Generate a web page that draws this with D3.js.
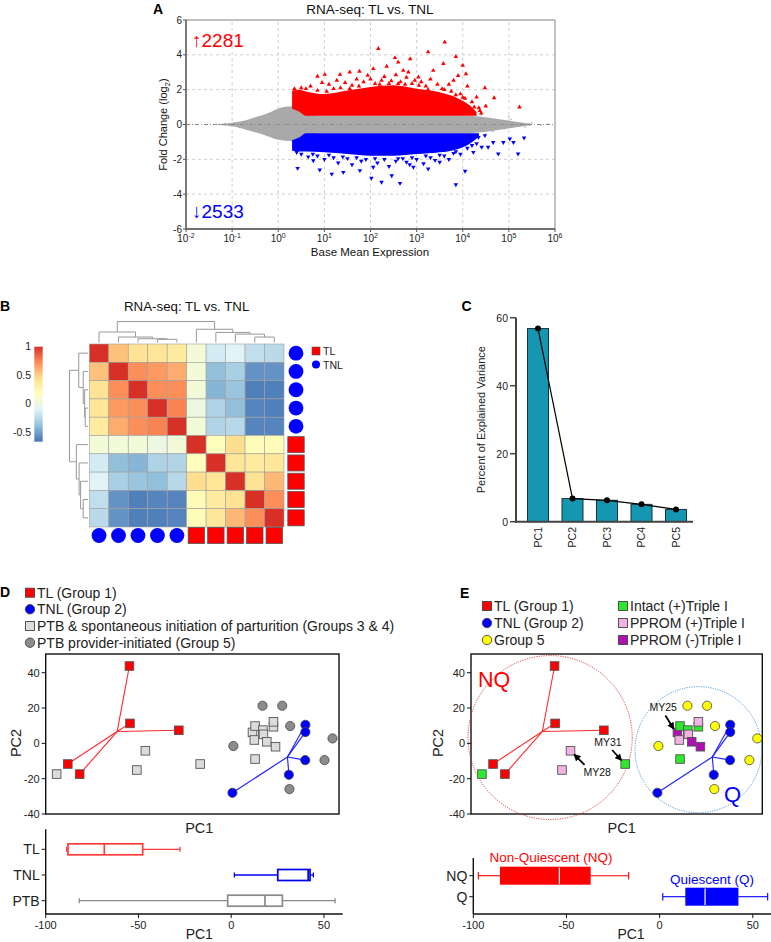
<!DOCTYPE html>
<html><head><meta charset="utf-8">
<script src="https://cdn.jsdelivr.net/npm/d3@7"></script>
<style>body{margin:0;background:#fff} svg{font-family:"Liberation Sans",Arial,Helvetica,sans-serif}</style>
</head><body><svg id="c" width="771" height="942"></svg>
<script>
// ================= DATA =================
// Panel A (MA plot) - x values are log10(base mean)
const maExpTicks = [-2,-1,0,1,2,3,4,5,6];
const maFcTicks = [-6,-4,-2,0,2,4,6];
const upCount = 2281, downCount = 2533;
// dense non-significant cloud envelope: [log10 mean, lower, upper]
const grayCloud = [[-1.3,-0.03,0.03],[-0.95,-0.12,0.12],[-0.7,-0.3,0.25],[-0.5,-0.45,0.42],[-0.2,-0.7,0.68],[0,-0.88,0.92],[0.3,-0.95,1.05],[0.6,-0.6,0.62],[1,-0.5,0.5],[2,-0.5,0.5],[3,-0.5,0.5],[4,-0.5,0.5],[4.4,-0.45,0.45],[4.8,-0.3,0.3],[5.2,-0.15,0.15],[5.5,-0.05,0.05]];
// dense up-regulated region: [log10 mean, lower, upper]
const upCloud = [[0.3,0.9,1.95],[0.45,0.75,2.0],[0.6,0.5,1.9],[1.0,0.5,1.75],[1.5,0.5,1.95],[2.0,0.5,2.15],[2.5,0.5,2.25],[3.0,0.5,2.05],[3.5,0.5,1.85],[3.9,0.5,1.5],[4.15,0.5,1.1],[4.3,0.5,0.7]];
// dense down-regulated region
const downCloud = [[0.3,-0.9,-1.5],[0.45,-0.75,-1.55],[0.6,-0.5,-1.55],[1.0,-0.5,-1.6],[1.5,-0.5,-1.7],[2.0,-0.5,-1.8],[2.5,-0.5,-1.8],[3.0,-0.5,-1.7],[3.5,-0.5,-1.6],[3.9,-0.5,-1.4],[4.15,-0.5,-1.1],[4.35,-0.5,-0.7]];
const upPts = [[2.17,4.35],[3.61,4.73],[3.25,4.16],[2.53,3.83],[2.6,3.58],[2.86,3.77],[3.85,3.9],[4.0,3.39],[4.07,2.91],[1.55,3.0],[1.76,3.05],[1.01,2.87],[0.85,2.76],[1.27,2.53],[4.48,2.1],[4.3,1.57],[4.68,1.53],[5.23,1.0],[4.37,0.8],[2.06,3.2],[2.35,3.33],[2.82,3.0],[3.36,3.1],[2.24,2.53],[3.04,2.72],[1.94,2.82],[1.34,2.87],[3.8,2.53],[3.58,3.49],[2.71,3.1],[2.96,2.53],[0.5,2.1],[0.7,2.2],[0.95,2.4],[1.1,2.3],[1.2,2.05],[1.45,2.4],[1.6,2.25],[1.7,2.6],[1.85,2.45],[2.0,2.6],[2.1,2.35],[2.3,2.75],[2.45,2.5],[2.55,2.85],[2.65,2.45],[2.78,2.7],[2.9,2.35],[3.1,2.45],[3.2,2.2],[3.3,2.6],[3.45,2.3],[3.55,2.05],[3.7,2.3],[3.75,1.9],[3.95,1.75],[4.05,1.5],[4.2,1.3],[4.25,1.0],[4.4,0.65],[4.5,1.05],[4.1,2.2],[3.9,2.8],[0.35,2.05],[0.6,2.05],[0.85,1.95],[1.05,1.9],[1.35,2.1],[1.55,2.05],[1.75,2.2],[2.2,2.3],[2.4,2.35],[2.6,2.35],[2.75,2.3],[3.05,2.25],[3.25,2.0],[3.6,2.0],[3.85,1.7],[4.0,1.55],[4.35,0.95]];
const downPts = [[2.02,-3.08],[2.24,-3.31],[2.64,-3.37],[3.85,-3.45],[4.05,-2.68],[0.9,-2.6],[0.42,-2.51],[1.16,-2.84],[1.41,-2.74],[2.46,-2.93],[2.93,-2.45],[1.77,-2.64],[3.25,-2.55],[4.77,-1.69],[5.2,-1.69],[5.02,-0.82],[5.33,-0.77],[5.1,-1.02],[4.88,-1.02],[4.66,-1.02],[4.55,-1.3],[4.41,-1.3],[4.34,-0.73],[4.48,-0.63],[4.23,-1.59],[2.06,-2.45],[3.5,-2.16],[2.78,-2.16],[0.76,-2.07],[0.5,-1.7],[0.65,-1.85],[0.85,-1.8],[1.0,-2.0],[1.2,-1.9],[1.3,-2.2],[1.5,-1.95],[1.6,-2.3],[1.8,-2.1],[1.9,-2.0],[2.15,-2.2],[2.3,-2.0],[2.4,-2.4],[2.55,-2.1],[2.7,-1.95],[2.85,-2.3],[3.0,-2.0],[3.15,-2.25],[3.3,-1.9],[3.4,-2.05],[3.6,-1.8],[3.7,-2.0],[3.8,-1.65],[3.95,-1.7],[4.1,-1.35],[4.3,-1.1],[0.4,-1.6],[0.75,-1.7],[1.1,-1.75],[1.4,-1.85],[1.7,-1.9],[2.1,-1.95],[2.6,-1.95],[2.9,-1.9],[3.2,-1.8],[3.5,-1.75],[3.85,-1.55],[4.2,-1.2]];
const grayPts = [[4.55,0.35],[4.75,0.2],[4.9,-0.25],[5.05,0.3],[5.2,0.05],[5.35,-0.15],[5.5,0.1],[5.7,-0.05],[5.85,0.02],[4.65,-0.4],[5.0,0.45],[-1.15,0.05],[-1.05,-0.06],[-0.95,0.1],[-0.85,-0.15],[-1.3,0.0],[4.4,0.55],[4.5,-0.55]];

// Panel B (correlation heatmap)
const heatGroups = ["TNL","TNL","TNL","TNL","TNL","TL","TL","TL","TL","TL"];
const corr = [
 [1,0.55,0.42,0.4,0.35,0.05,-0.15,-0.1,-0.22,-0.24],
 [0.55,1,0.72,0.68,0.62,0.05,-0.38,-0.3,-0.55,-0.55],
 [0.42,0.72,1,0.72,0.72,0.05,-0.42,-0.35,-0.62,-0.62],
 [0.4,0.68,0.72,1,0.75,0.0,-0.28,-0.38,-0.6,-0.62],
 [0.35,0.62,0.72,0.75,1,0.05,-0.27,-0.25,-0.6,-0.6],
 [0.05,0.05,0.05,0.0,0.05,1,0.18,0.45,0.2,0.2],
 [-0.15,-0.38,-0.42,-0.28,-0.27,0.18,1,0.4,0.35,0.38],
 [-0.1,-0.3,-0.35,-0.38,-0.25,0.45,0.4,1,0.42,0.58],
 [-0.22,-0.55,-0.62,-0.6,-0.6,0.2,0.35,0.42,1,0.72],
 [-0.24,-0.55,-0.62,-0.62,-0.6,0.2,0.38,0.58,0.72,1]];
// dendrogram: [height, left, right], leaves are indices
const sampleTree = [1.0,[0.5,0,[0.26,1,[0.18,2,[0.15,3,4]]]],[0.63,5,[0.48,6,[0.40,7,[0.26,8,9]]]]];
const colorBarTicks = [1,0.5,0,-0.5];
const corrRange = [-0.66,1];

// Panel C (scree)
const pcs = ["PC1","PC2","PC3","PC4","PC5"];
const pcVar = [56.8,6.8,6.3,5.1,3.6];
const pcTicks = [0,20,40,60];

// Panels D/E (PCA)
const tlPts = [[-54.9,43.8],[-54.6,11.3],[-28.3,7.4],[-88.1,-11.7],[-81.7,-17.4]];
const tnlPts = [[39.9,10.5],[39.9,6.4],[39.8,-9.5],[31.0,-17.8],[0.6,-28.0]];
const ptbSpontPts = [[-94.1,-17.4],[-50.9,-15.1],[-46.3,-4.2],[-16.8,-11.7],[12.8,-8.9],[11.4,6.2],[12.8,9.8],[17.0,7.5],[17.3,5.1],[12.4,1.9],[19.1,0.9],[23.8,-1.9],[22.7,9.4],[22.7,12.2]];
const ptbSpontTripleI = ["intact+","pprom+","pprom+","intact+","intact+","pprom-","intact+","intact+","pprom+","pprom+","pprom-","pprom-","intact+","pprom+"];
const group5Pts = [[16.8,21.3],[27.4,21.3],[31.7,9.8],[54.5,2.8],[1.1,-1.5],[50.2,-9.5],[31.3,-25.9]];
const pcaYTicks = [-40,-20,0,20,40];
const boxXTicks = [-100,-50,0,50];
const boxDCats = ["TL","TNL","PTB"];
const boxDStats = [[-88.7,-88.0,-68.4,-47.7,-27.6],[1.7,25.1,41.5,42.5,44.3],[-81.9,-1.9,18.2,27.6,56.0]];
const boxECats = ["NQ","Q"];
const boxEStats = [[-97.3,-85.3,-53.8,-37.4,-16.6],[1.7,14.2,24.4,41.9,58.0]];
// region ellipses in data units: [cx, cy, rx, ry]
const nqRegion = [-57.3,3.3,44.3,46.4];
const qRegion = [22.7,-3.6,34.2,35.7];
const annotations = [{label:"MY25", idx:5}, {label:"MY31", idx:3}, {label:"MY28", idx:2}];

// ================= DRAW =================
const svg = d3.select("#c");
function label(x,y,s,o={}){
  const t = svg.append("text").attr("x",x).attr("y",y).text(s)
    .attr("font-size",o.size||12).attr("fill",o.fill||"#222")
    .attr("text-anchor",o.anchor||"start");
  if(o.bold) t.attr("font-weight","bold");
  if(o.rot) t.attr("transform",`rotate(${o.rot},${x},${y})`);
  return t;
}
// panel letters
label(153,13.5,"A",{size:14,bold:true,fill:"#000"});
label(0,310.5,"B",{size:14,bold:true,fill:"#000"});
label(461.5,310.5,"C",{size:14,bold:true,fill:"#000"});
label(0,597,"D",{size:14,bold:true,fill:"#000"});
label(460,598,"E",{size:14,bold:true,fill:"#000"});

// ---------- Panel A ----------
{
const g = svg.append("g");
const x = d3.scaleLinear().domain([-2,6]).range([186,555]);
const y = d3.scaleLinear().domain([-6,6]).range([229,20]);
g.selectAll(".gx").data(maExpTicks.slice(1,-1)).join("line")
  .attr("x1",d=>x(d)).attr("x2",d=>x(d)).attr("y1",y(-6)).attr("y2",y(6))
  .attr("stroke","#cfcfcf").attr("stroke-dasharray","3,3");
g.selectAll(".gy").data(maFcTicks.filter(d=>d!==0 && Math.abs(d)<6)).join("line")
  .attr("x1",x(-2)).attr("x2",x(6)).attr("y1",d=>y(d)).attr("y2",d=>y(d))
  .attr("stroke","#cfcfcf").attr("stroke-dasharray","3,3");
const area = d3.area().x(d=>x(d[0])).y0(d=>y(d[1])).y1(d=>y(d[2])).curve(d3.curveMonotoneX);
g.append("path").attr("d",area(grayCloud)).attr("fill","#a9a9a9");
g.append("path").attr("d",area(upCloud)).attr("fill","#ff0000");
g.append("path").attr("d",area(downCloud)).attr("fill","#0000ff");
g.selectAll(".gp").data(grayPts).join("circle").attr("cx",d=>x(d[0])).attr("cy",d=>y(d[1])).attr("r",0.8).attr("fill","#aaa");
const tri = d3.symbol(d3.symbolTriangle,9)();
g.selectAll(".up").data(upPts).join("path").attr("d",tri)
  .attr("transform",d=>`translate(${x(d[0])},${y(d[1])})`).attr("fill","#ff0000");
g.selectAll(".dn").data(downPts).join("path").attr("d",tri)
  .attr("transform",d=>`translate(${x(d[0])},${y(d[1])}) rotate(180)`).attr("fill","#0000ff");
g.append("line").attr("x1",x(-2)).attr("x2",x(6)).attr("y1",y(0)).attr("y2",y(0))
  .attr("stroke","#888").attr("stroke-dasharray","4,2,1,2");
g.append("rect").attr("x",x(-2)).attr("y",y(6)).attr("width",x(6)-x(-2)).attr("height",y(-6)-y(6))
  .attr("fill","none").attr("stroke","#999").attr("stroke-width",1.2);
g.append("line").attr("x1",x(-2)).attr("x2",x(-2)).attr("y1",y(6)).attr("y2",y(-6)).attr("stroke","#555").attr("stroke-width",1.3);
g.append("line").attr("x1",x(-2)).attr("x2",x(6)).attr("y1",y(-6)).attr("y2",y(-6)).attr("stroke","#555").attr("stroke-width",1.3);
g.selectAll(".ty").data(maFcTicks).join("line").attr("x1",x(-2)-3).attr("x2",x(-2)).attr("y1",d=>y(d)).attr("y2",d=>y(d)).attr("stroke","#555");
g.selectAll(".tx").data(maExpTicks).join("line").attr("y1",y(-6)).attr("y2",y(-6)+3).attr("x1",d=>x(d)).attr("x2",d=>x(d)).attr("stroke","#555");
g.selectAll(".ly").data(maFcTicks).join("text").attr("x",x(-2)-4).attr("y",d=>y(d)+3.5)
  .attr("text-anchor","end").attr("font-size",10).attr("fill","#222").text(d=>d);
const lx = g.selectAll(".lx").data(maExpTicks).join("text").attr("x",d=>x(d)).attr("y",242)
  .attr("text-anchor","middle").attr("font-size",10).attr("fill","#222");
lx.append("tspan").text("10");
lx.append("tspan").attr("dy",-4).attr("font-size",7).text(d=>d);
label(370,14,"RNA-seq: TL vs. TNL",{size:13.5,anchor:"middle",fill:"#111"});
label(370,256,"Base Mean Expression",{size:11.5,anchor:"middle",fill:"#111"});
const yl = g.append("text").attr("transform","translate(167,124.5) rotate(-90)").attr("text-anchor","middle").attr("font-size",11).attr("fill","#111");
yl.append("tspan").text("Fold Change (log");
yl.append("tspan").attr("font-size",8).attr("dy",2.5).text("2");
yl.append("tspan").attr("dy",-2.5).text(")");
label(192,47,"↑"+upCount,{size:19,fill:"#ff0000"});
label(192,218,"↓"+downCount,{size:19,fill:"#0000ff"});
}

// ---------- Panel B ----------
{
const g = svg.append("g");
const n = corr.length;
const hx = d3.scaleBand().domain(d3.range(n)).range([89.3,284]);
const hy = d3.scaleBand().domain(d3.range(n)).range([344,527]);
const [lo,hi] = corrRange;
const pal = ["#4575B4","#91BFDB","#E0F3F8","#FFFFBF","#FEE090","#FC8D59","#D73027"];
const col = d3.scaleLinear().domain(d3.range(7).map(i=>lo+i*(hi-lo)/6)).range(pal).interpolate(d3.interpolateRgb);
const cells = corr.flatMap((r,i)=>r.map((v,j)=>({i,j,v})));
g.selectAll(".cell").data(cells).join("rect")
  .attr("x",d=>hx(d.j)).attr("y",d=>hy(d.i)).attr("width",hx.bandwidth()).attr("height",hy.bandwidth())
  .attr("fill",d=>col(d.v)).attr("stroke","#a0a0a0").attr("stroke-width",0.6);
function lay(node){
  if(typeof node==="number") return {pos:node, h:0};
  const a = lay(node[1]), b = lay(node[2]);
  return {pos:(a.pos+b.pos)/2, h:node[0], kids:[a,b]};
}
const tree = lay(sampleTree);
function segs(nd, out){
  if(!nd.kids) return out;
  const [a,b] = nd.kids;
  out.push([a.pos,a.h,a.pos,nd.h],[a.pos,nd.h,b.pos,nd.h],[b.pos,b.h,b.pos,nd.h]);
  segs(a,out); segs(b,out); return out;
}
const S = segs(tree,[]);
const cx = i=>hx(0)+hx.step()*(i+0.5);
const cy = i=>hy(0)+hy.step()*(i+0.5);
g.selectAll(".dt").data(S).join("line")
  .attr("x1",d=>cx(d[0])).attr("x2",d=>cx(d[2])).attr("y1",d=>342.5-d[1]*21).attr("y2",d=>342.5-d[3]*21)
  .attr("stroke","#999").attr("stroke-width",1);
g.selectAll(".dl").data(S).join("line")
  .attr("y1",d=>cy(d[0])).attr("y2",d=>cy(d[2])).attr("x1",d=>88-d[1]*18.5).attr("x2",d=>88-d[3]*18.5)
  .attr("stroke","#999").attr("stroke-width",1);
const annoCol = {TL:"#ff0000", TNL:"#0000ff"};
const rowAnno = heatGroups.map((gname,i)=>({gname,i}));
g.selectAll(".ar").data(rowAnno.filter(d=>d.gname==="TNL")).join("circle")
  .attr("cx",296).attr("cy",d=>cy(d.i)).attr("r",7.4).attr("fill",annoCol.TNL);
g.selectAll(".as").data(rowAnno.filter(d=>d.gname==="TL")).join("rect")
  .attr("x",296-8.2).attr("y",d=>cy(d.i)-8).attr("width",16.4).attr("height",16).attr("fill",annoCol.TL).attr("stroke","#555").attr("stroke-width",0.8);
g.selectAll(".bc").data(rowAnno.filter(d=>d.gname==="TNL")).join("circle")
  .attr("cy",535.5).attr("cx",d=>cx(d.i)).attr("r",7.4).attr("fill",annoCol.TNL);
g.selectAll(".bs").data(rowAnno.filter(d=>d.gname==="TL")).join("rect")
  .attr("y",535.5-8).attr("x",d=>cx(d.i)-8.2).attr("width",16.4).attr("height",16).attr("fill",annoCol.TL).attr("stroke","#555").attr("stroke-width",0.8);
g.append("rect").attr("x",312).attr("y",347).attr("width",8).attr("height",8).attr("fill","#ff0000").attr("stroke","#555").attr("stroke-width",0.6);
g.append("circle").attr("cx",316).attr("cy",364.5).attr("r",4).attr("fill","#0000ff");
label(323,355,"TL",{size:10.5});
label(323,368.5,"TNL",{size:10.5});
const cb = d3.scaleLinear().domain(corrRange).range([441.7,346.7]);
const grad = svg.append("defs").append("linearGradient").attr("id","cbg").attr("x1",0).attr("x2",0).attr("y1",1).attr("y2",0);
d3.range(0,1.0001,0.05).forEach(t=>grad.append("stop").attr("offset",t).attr("stop-color",col(lo+t*(hi-lo))));
g.append("rect").attr("x",34.3).attr("y",cb(hi)).attr("width",8.4).attr("height",cb(lo)-cb(hi)).attr("fill","url(#cbg)");
g.selectAll(".cbl").data(colorBarTicks).join("text").attr("x",31).attr("y",d=>cb(d)+3.5)
  .attr("text-anchor","end").attr("font-size",10.5).attr("fill","#222").text(d=>d);
label(186.7,311,"RNA-seq: TL vs. TNL",{size:13.3,anchor:"middle",fill:"#111"});
}

// ---------- Panel C ----------
{
const g = svg.append("g");
const y = d3.scaleLinear().domain([0,60]).range([521.7,317.7]);
const x = d3.scalePoint().domain(pcs).range([538,676]);
const bw = 21;
g.selectAll(".bar").data(pcs.map((p,i)=>({p,v:pcVar[i]}))).join("rect")
  .attr("x",d=>x(d.p)-bw/2).attr("y",d=>y(d.v)).attr("width",bw).attr("height",d=>y(0)-y(d.v))
  .attr("fill","#1597b1").attr("stroke","#17323a").attr("stroke-width",1);
const line = d3.line().x((d,i)=>x(pcs[i])).y(d=>y(d));
g.append("path").attr("d",line(pcVar)).attr("fill","none").attr("stroke","#000").attr("stroke-width",1.2);
g.selectAll(".dot").data(pcVar).join("circle").attr("cx",(d,i)=>x(pcs[i])).attr("cy",d=>y(d)).attr("r",3).attr("fill","#000");
g.append("line").attr("x1",516).attr("x2",516).attr("y1",y(60)).attr("y2",y(0)+1).attr("stroke","#444").attr("stroke-width",2);
g.append("line").attr("x1",515).attr("x2",693).attr("y1",y(0)).attr("y2",y(0)).attr("stroke","#444").attr("stroke-width",2);
g.selectAll(".tk").data(pcTicks).join("line").attr("x1",510).attr("x2",516).attr("y1",d=>y(d)).attr("y2",d=>y(d)).attr("stroke","#444").attr("stroke-width",1.5);
g.selectAll(".tl").data(pcTicks).join("text").attr("x",508).attr("y",d=>y(d)+3.8).attr("text-anchor","end").attr("font-size",10.5).attr("fill","#222").text(d=>d);
g.selectAll(".xl").data(pcs).join("text").attr("transform",d=>`translate(${x(d)+3.8},527) rotate(-90)`)
  .attr("text-anchor","end").attr("font-size",10.5).attr("fill","#222").text(d=>d);
label(485,419.7,"Percent of Explained Variance",{size:11,anchor:"middle",rot:-90,fill:"#222"});
}

// ---------- Panels D and E ----------
const tripleColors = {"intact+":"#2ee82e","pprom+":"#f2b3e4","pprom-":"#b10fb1"};
function pcaAxes(g, x0, x1, y, xLabelX, yLabelX){
  g.append("rect").attr("x",x0).attr("y",y(50.6)).attr("width",x1-x0).attr("height",y(-40)-y(50.6))
    .attr("fill","none").attr("stroke","#111").attr("stroke-width",1.4);
  g.selectAll(".yt").data(pcaYTicks).join("line").attr("x1",x0-4).attr("x2",x0).attr("y1",d=>y(d)).attr("y2",d=>y(d)).attr("stroke","#111");
  g.selectAll(".yl").data(pcaYTicks).join("text").attr("x",x0-6).attr("y",d=>y(d)+4).attr("text-anchor","end")
    .attr("font-size",11).attr("fill","#222").text(d=>d);
  label(xLabelX,833,"PC1",{size:14.5,anchor:"middle"});
  label(yLabelX,743,"PC2",{size:14.5,anchor:"middle",rot:-90});
}
function spokes(g, x, y, pts, color){
  const m = [d3.mean(pts,d=>d[0]), d3.mean(pts,d=>d[1])];
  g.selectAll(null).data(pts).join("line").attr("x1",x(m[0])).attr("y1",y(m[1])).attr("x2",d=>x(d[0])).attr("y2",d=>y(d[1]))
    .attr("stroke",color).attr("stroke-width",1.1);
}
function squares(g,x,y,pts,fillFn,s=8.6){
  g.selectAll(null).data(pts).join("rect").attr("x",d=>x(d[0])-s/2).attr("y",d=>y(d[1])-s/2).attr("width",s).attr("height",s)
    .attr("fill",fillFn).attr("stroke","#555").attr("stroke-width",0.9);
}
function circles(g,x,y,pts,fill,r=4.6){
  g.selectAll(null).data(pts).join("circle").attr("cx",d=>x(d[0])).attr("cy",d=>y(d[1])).attr("r",r)
    .attr("fill",fill).attr("stroke","#444").attr("stroke-width",0.8);
}
function boxes(g, x, yb, cats, stats, colors, filled, h, capH, sw){
  cats.forEach((c,i)=>{
    const [mn,q1,md,q3,mx] = stats[i]; const yc = yb(c); const col = colors[i];
    g.append("line").attr("x1",x(mn)).attr("x2",x(q1)).attr("y1",yc).attr("y2",yc).attr("stroke",col).attr("stroke-width",sw);
    g.append("line").attr("x1",x(q3)).attr("x2",x(mx)).attr("y1",yc).attr("y2",yc).attr("stroke",col).attr("stroke-width",sw);
    [mn,mx].forEach(v=>g.append("line").attr("x1",x(v)).attr("x2",x(v)).attr("y1",yc-capH/2).attr("y2",yc+capH/2).attr("stroke",col).attr("stroke-width",sw));
    g.append("rect").attr("x",x(q1)).attr("y",yc-h/2).attr("width",x(q3)-x(q1)).attr("height",h)
      .attr("fill",filled?col:"#fff").attr("stroke",col).attr("stroke-width",sw+0.4);
    g.append("line").attr("x1",x(md)).attr("x2",x(md)).attr("y1",yc-h/2).attr("y2",yc+h/2).attr("stroke",filled?"#fff":col).attr("stroke-width",filled?1.2:sw+0.4);
  });
}
function boxAxes(g, x, yb, cats, x0, x1, yTop, yBot, labX){
  g.append("line").attr("x1",x0).attr("x2",x0).attr("y1",yTop).attr("y2",yBot).attr("stroke","#111").attr("stroke-width",1.4);
  g.append("line").attr("x1",x0).attr("x2",x1).attr("y1",yBot).attr("y2",yBot).attr("stroke","#111").attr("stroke-width",1.4);
  g.selectAll(".bt").data(cats).join("line").attr("x1",x0-4).attr("x2",x0).attr("y1",d=>yb(d)).attr("y2",d=>yb(d)).attr("stroke","#111");
  g.selectAll(".btl").data(cats).join("text").attr("x",x0-6).attr("y",d=>yb(d)+5).attr("text-anchor","end")
    .attr("font-size",14).attr("fill","#222").text(d=>d);
  g.selectAll(".bx").data(boxXTicks).join("line").attr("x1",d=>x(d)).attr("x2",d=>x(d)).attr("y1",yBot).attr("y2",yBot+4).attr("stroke","#111");
  g.selectAll(".bxl").data(boxXTicks).join("text").attr("x",d=>x(d)).attr("y",928.5).attr("text-anchor","middle")
    .attr("font-size",11).attr("fill","#222").text(d=>d);
  label(labX,939,"PC1",{size:14,anchor:"middle"});
}
function legendRow(g, mx, ty, shape, fill, text){
  if(shape==="sq") g.append("rect").attr("x",mx-4.5).attr("y",ty-4.5).attr("width",9).attr("height",9).attr("fill",fill).attr("stroke","#444").attr("stroke-width",0.9);
  else g.append("circle").attr("cx",mx).attr("cy",ty).attr("r",4.7).attr("fill",fill).attr("stroke","#444").attr("stroke-width",0.9);
  label(mx+7,ty+5,text,{size:14});
}

// ----- D -----
{
const g = svg.append("g");
const x = d3.scaleLinear().domain([-100,58]).range([45.7,339]);
const y = d3.scaleLinear().domain([-40,50.6]).range([814,654]);
legendRow(g,30,592.7,"sq","#ff0000","TL (Group 1)");
legendRow(g,30,609.3,"ci","#0000ff","TNL (Group 2)");
legendRow(g,30,626,"sq","#dcdcdc","PTB & spontaneous initiation of parturition (Groups 3 & 4)");
legendRow(g,30,642.7,"ci","#8c8c8c","PTB provider-initiated (Group 5)");
pcaAxes(g,45.7,339,y,199.3,21);
squares(g,x,y,ptbSpontPts,"#dcdcdc");
circles(g,x,y,group5Pts,"#8c8c8c");
spokes(g,x,y,tlPts,"#ff2a2a");
squares(g,x,y,tlPts,"#ff0000");
spokes(g,x,y,tnlPts,"#1a1aff");
circles(g,x,y,tnlPts,"#0000ff");
const xb = d3.scaleLinear().domain([-100,60]).range([45.7,342.5]);
const yb = d3.scalePoint().domain(boxDCats).range([849.3,900.7]);
boxAxes(g,xb,yb,boxDCats,45.7,342.7,829.3,914,199.3);
boxes(g,xb,yb,boxDCats,boxDStats,["#ff3b3b","#0000ee","#8a8a8a"],false,11,5,1.3);
}

// ----- E -----
{
const g = svg.append("g");
const x = d3.scaleLinear().domain([-100,57.2]).range([471,762.3]);
const y = d3.scaleLinear().domain([-40,50.6]).range([814,654]);
legendRow(g,487,606,"sq","#ff0000","TL (Group 1)");
legendRow(g,487,623,"ci","#0000ff","TNL (Group 2)");
legendRow(g,487,640,"ci","#ffff00","Group 5");
legendRow(g,623,606,"sq",tripleColors["intact+"],"Intact (+)Triple I");
legendRow(g,623,623,"sq",tripleColors["pprom+"],"PPROM (+)Triple I");
legendRow(g,623,640,"sq",tripleColors["pprom-"],"PPROM (-)Triple I");
pcaAxes(g,471,762.3,y,621.7,443);
const ell = (r,c)=>g.append("ellipse").attr("cx",x(r[0])).attr("cy",y(r[1])).attr("rx",x(r[0]+r[2])-x(r[0])).attr("ry",y(r[1])-y(r[1]+r[3]))
  .attr("fill","none").attr("stroke",c).attr("stroke-width",0.9).attr("stroke-dasharray","1.2,1.2");
ell(nqRegion,"#e03030");
ell(qRegion,"#3d8fe0");
const sp = ptbSpontPts.map((p,i)=>({p,t:ptbSpontTripleI[i]}));
g.selectAll(null).data(sp).join("rect").attr("x",d=>x(d.p[0])-4.3).attr("y",d=>y(d.p[1])-4.3).attr("width",8.6).attr("height",8.6)
  .attr("fill",d=>tripleColors[d.t]).attr("stroke","#555").attr("stroke-width",0.9);
circles(g,x,y,group5Pts,"#ffff00");
spokes(g,x,y,tlPts,"#ff2a2a");
squares(g,x,y,tlPts,"#ff0000");
spokes(g,x,y,tnlPts,"#1a1aff");
circles(g,x,y,tnlPts,"#0000ff");
label(478,687,"NQ",{size:21.5,fill:"#ff0000"});
label(724,802,"Q",{size:22,fill:"#0000ff"});
const defs = svg.append("defs");
defs.append("marker").attr("id","ah").attr("viewBox","0 0 10 10").attr("refX",8).attr("refY",5).attr("markerWidth",4).attr("markerHeight",4).attr("orient","auto")
  .append("path").attr("d","M0,0L10,5L0,10z").attr("fill","#000");
const ann = {MY25:{dx:-12,dy:-17,tx:-28,ty:-21}, MY31:{dx:-13,dy:-14,tx:-31,ty:-18}, MY28:{dx:14,dy:14,tx:13,ty:25}};
annotations.forEach(a=>{
  const p = ptbSpontPts[a.idx]; const px=x(p[0]), py=y(p[1]); const o=ann[a.label];
  const ex = px + (o.dx>0?4:-4), ey = py + (o.dy>0?4:-4);
  g.append("line").attr("x1",px+o.dx).attr("y1",py+o.dy).attr("x2",ex).attr("y2",ey)
    .attr("stroke","#000").attr("stroke-width",1.8).attr("marker-end","url(#ah)");
  label(px+o.tx,py+o.ty,a.label,{size:10.5,fill:"#111"});
});
const xb = d3.scaleLinear().domain([-100,60]).range([473.3,771.4]);
const yb = d3.scalePoint().domain(boxECats).range([875.7,896.7]);
boxAxes(g,xb,yb,boxECats,473.3,771,858,914,631);
boxes(g,xb,yb,boxECats,boxEStats,["#ff0000","#0000ff"],true,16.5,7.5,1.1);
label(551,862,"Non-Quiescent (NQ)",{size:13.5,anchor:"middle",fill:"#ff0000"});
label(712,884,"Quiescent (Q)",{size:13.5,anchor:"middle",fill:"#0000ff"});
}
</script></body></html>
